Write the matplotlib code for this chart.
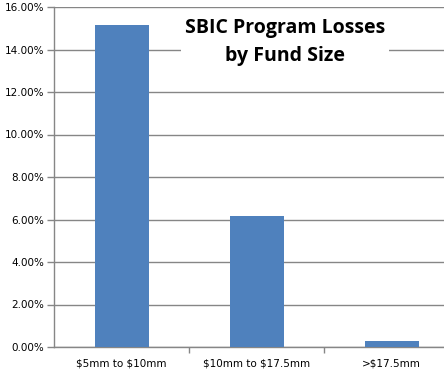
import numpy as np
import matplotlib
matplotlib.use("Agg")
import matplotlib.pyplot as plt
from matplotlib.ticker import FuncFormatter, FixedLocator

plt.rcParams["text.parse_math"] = False

categories = ["$5mm to $10mm", "$10mm to $17.5mm", ">$17.5mm"]
losses = [15.15, 6.16, 0.28]
yticks = [0, 2, 4, 6, 8, 10, 12, 14, 16]

grid_col = "#868686"
bar_col = "#4F81BD"

fig = plt.figure(figsize=(4.44, 3.74), dpi=100)
ax = fig.add_axes([54 / 444, 27 / 374, 390 / 444, 340 / 374])

x = np.arange(len(categories))
ax.bar(x, losses, width=0.4, color=bar_col, zorder=3)

ax.set_ylim(0, 16)
ax.set_xlim(-0.5, 2.5 - 15 / 135)
ax.set_yticks(yticks)
ax.yaxis.set_major_formatter(FuncFormatter(lambda v, p: "{:.2f}%".format(v)))
ax.grid(axis="y", color=grid_col, linewidth=1, zorder=0)

ax.set_xticks(x)
ax.set_xticklabels(categories, fontsize=7.5, family="DejaVu Sans")
ax.xaxis.set_minor_locator(FixedLocator([0.5, 1.5]))
ax.tick_params(axis="x", which="major", length=0, pad=8)
ax.tick_params(axis="x", which="minor", length=4, color=grid_col, width=1)
ax.tick_params(axis="y", length=5, color=grid_col, width=1, labelsize=7.5, pad=2)

for s in ["top", "right"]:
    ax.spines[s].set_visible(False)
for s in ["left", "bottom"]:
    ax.spines[s].set_color(grid_col)
    ax.spines[s].set_linewidth(1)

# title sits in a white box over the gridlines
ax.text((285 - 54) / 390, 1 - (42 - 7) / 340, "SBIC Program Losses\nby Fund Size",
        transform=ax.transAxes, ha="center", va="center", fontsize=14,
        fontweight="bold", family="Open Sans", linespacing=1.5, zorder=5,
        bbox=dict(facecolor="white", edgecolor="none", pad=3))

fig.savefig("out.png", dpi=100)
